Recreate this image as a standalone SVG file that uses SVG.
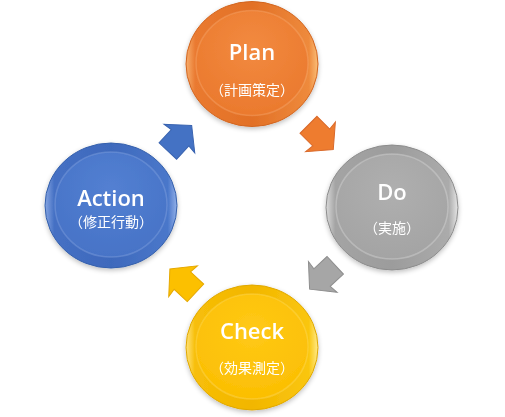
<svg xmlns="http://www.w3.org/2000/svg" width="505" height="417" viewBox="0 0 505 417">
<defs>
  <filter id="sh" x="-20%" y="-20%" width="140%" height="140%">
    <feGaussianBlur in="SourceAlpha" stdDeviation="2.5"/>
    <feOffset dx="0" dy="2" result="b"/>
    <feComponentTransfer><feFuncA type="linear" slope="0.25"/></feComponentTransfer>
    <feMerge><feMergeNode/><feMergeNode in="SourceGraphic"/></feMerge>
  </filter>
  <!-- orange -->
  <linearGradient id="ringO" x1="0" y1="0" x2="1" y2="0">
    <stop offset="0" stop-color="#F7AE6E"/><stop offset="0.07" stop-color="#EA7A30"/>
    <stop offset="0.5" stop-color="#E27026"/><stop offset="0.93" stop-color="#EE8A3C"/>
    <stop offset="1" stop-color="#FABE78"/>
  </linearGradient>
  <radialGradient id="discO" cx="0.5" cy="0.35" r="0.7">
    <stop offset="0" stop-color="#F28A40"/><stop offset="1" stop-color="#EA782C"/>
  </radialGradient>
  <!-- gray -->
  <linearGradient id="ringG" x1="0" y1="0" x2="1" y2="0">
    <stop offset="0" stop-color="#DADADA"/><stop offset="0.07" stop-color="#A4A4A4"/>
    <stop offset="0.5" stop-color="#9C9C9C"/><stop offset="0.93" stop-color="#ABABAB"/>
    <stop offset="1" stop-color="#E6E6E6"/>
  </linearGradient>
  <radialGradient id="discG" cx="0.5" cy="0.35" r="0.7">
    <stop offset="0" stop-color="#AFAFAF"/><stop offset="1" stop-color="#A3A3A3"/>
  </radialGradient>
  <!-- yellow -->
  <linearGradient id="ringY" x1="0" y1="0" x2="1" y2="0">
    <stop offset="0" stop-color="#FFE27A"/><stop offset="0.07" stop-color="#F7BE08"/>
    <stop offset="0.5" stop-color="#F2B600"/><stop offset="0.93" stop-color="#FAC60E"/>
    <stop offset="1" stop-color="#FFEA8A"/>
  </linearGradient>
  <radialGradient id="discY" cx="0.5" cy="0.35" r="0.7">
    <stop offset="0" stop-color="#FFC916"/><stop offset="1" stop-color="#FBBE02"/>
  </radialGradient>
  <!-- blue -->
  <linearGradient id="ringB" x1="0" y1="0" x2="1" y2="0">
    <stop offset="0" stop-color="#86A6E2"/><stop offset="0.07" stop-color="#4570C4"/>
    <stop offset="0.5" stop-color="#3E69BC"/><stop offset="0.93" stop-color="#4A77CA"/>
    <stop offset="1" stop-color="#92B0E8"/>
  </linearGradient>
  <radialGradient id="discB" cx="0.5" cy="0.35" r="0.7">
    <stop offset="0" stop-color="#5380D2"/><stop offset="1" stop-color="#4672C6"/>
  </radialGradient>
  <polygon id="arr" points="0,-12 18,-12 17,-21 35,0 17,21 18,12 0,12"/>
  <style>
    .ring { stroke-width: 1; }
    .disc { stroke-width: 1.5; stroke-opacity: 0.35; }
    .t1 { font-family: "Open Sans", "Liberation Sans", sans-serif; font-size: 22px; font-weight: 600; fill: #FFFFFF; text-anchor: middle; }
    .t2 { font-family: "Noto Sans CJK JP", "Noto Sans", sans-serif; font-size: 14px; fill: #FFFFFF; text-anchor: middle; }
    .aO { fill: #EE7C2F; stroke: #D9692A; stroke-width: 1; }
    .aG { fill: #A6A6A6; stroke: #8E8E8E; stroke-width: 1; }
    .aY { fill: #FCC000; stroke: #E5A800; stroke-width: 1; }
    .aB { fill: #4472C4; stroke: #3A64B0; stroke-width: 1; }
  </style>
</defs>
<rect width="505" height="417" fill="#FFFFFF"/>

<g id="connectors">
  <use href="#arr" class="aO" transform="translate(308.5,124.8) rotate(45)"/>
  <use href="#arr" class="aG" transform="translate(335.2,265.3) rotate(137)"/>
  <use href="#arr" class="aY" transform="translate(195.5,292.8) rotate(-137)"/>
  <use href="#arr" class="aB" transform="translate(167.8,151) rotate(-47)"/>
</g>

<g id="plan" filter="url(#sh)">
  <ellipse class="ring" cx="252" cy="64" rx="66" ry="62.5" fill="url(#ringO)" stroke="#D2651F"/>
  <ellipse class="disc" cx="252" cy="63" rx="56" ry="52.5" fill="url(#discO)" stroke="#F8B27A"/>
  <text class="t1" x="252" y="60">Plan</text>
  <text class="t2" x="252" y="95">（計画策定）</text>
</g>

<g id="do" filter="url(#sh)">
  <ellipse class="ring" cx="392" cy="207.5" rx="66" ry="62.5" fill="url(#ringG)" stroke="#8C8C8C"/>
  <ellipse class="disc" cx="392" cy="206.5" rx="56" ry="52.5" fill="url(#discG)" stroke="#E2E2E2"/>
  <text class="t1" x="392" y="200">Do</text>
  <text class="t2" x="392" y="233">（実施）</text>
</g>

<g id="check" filter="url(#sh)">
  <ellipse class="ring" cx="252" cy="347.5" rx="66" ry="62.5" fill="url(#ringY)" stroke="#E0A800"/>
  <ellipse class="disc" cx="252" cy="346.5" rx="56" ry="52.5" fill="url(#discY)" stroke="#FFE070"/>
  <text class="t1" x="252" y="339">Check</text>
  <text class="t2" x="252" y="373">（効果測定）</text>
</g>

<g id="action" filter="url(#sh)">
  <ellipse class="ring" cx="111" cy="205.5" rx="66" ry="62.5" fill="url(#ringB)" stroke="#3560AC"/>
  <ellipse class="disc" cx="111" cy="204.5" rx="56" ry="52.5" fill="url(#discB)" stroke="#93B0E6"/>
  <text class="t1" x="111" y="206">Action</text>
  <text class="t2" x="111" y="227">（修正行動）</text>
</g>
</svg>
